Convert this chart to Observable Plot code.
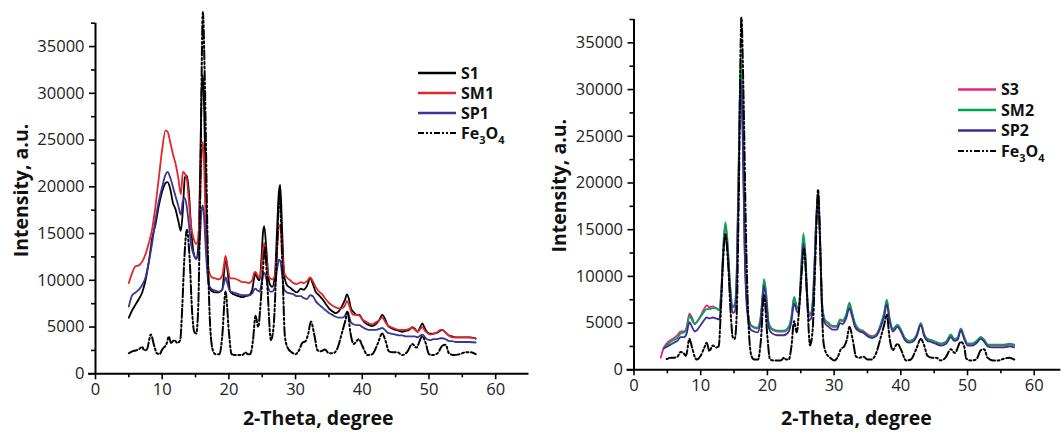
<!DOCTYPE html>
<html><head><meta charset="utf-8">
<script src="https://cdn.jsdelivr.net/npm/d3@7"></script>
<script src="https://cdn.jsdelivr.net/npm/@observablehq/plot@0.6"></script>
<style>
body{margin:0;background:#fff}
#wrap{display:flex;width:1061px;height:433px;overflow:hidden;background:#fff}
svg{display:block}
</style>
</head><body><div id="wrap"></div>
<script>
// ---- tick values ----
const yMajor = [0,5000,10000,15000,20000,25000,30000,35000];
const yMinor = [2500,7500,12500,17500,22500,27500,32500,37500];
const xMajor = [0,10,20,30,40,50,60];
const xMinor = [5,15,25,35,45,55];
const xTitle = "2-Theta, degree";
const yTitle = "Intensity, a.u.";

// ---- left panel series: [2-theta, intensity] ----
const leftS1 = [[5,6000],[5.5,6800],[6,7400],[6.5,8000],[7,8700],[7.5,10000],[8,12000],[8.5,14500],[9,16000],[9.5,18000],[10,19500],[10.5,20400],[10.8,20500],[11.2,19800],[11.6,18300],[12,17600],[12.4,16400],[12.8,15300],[13.1,17500],[13.4,21000],[13.7,21200],[14,19500],[14.3,16000],[14.7,13000],[15.1,12300],[15.4,13500],[15.7,22000],[15.9,30000],[16.1,32000],[16.3,28000],[16.6,17000],[17,9500],[17.5,8800],[18,8700],[18.5,8700],[19,9000],[19.3,11000],[19.5,12500],[19.8,11000],[20.2,8800],[20.7,8500],[21.5,8300],[22,8200],[22.5,8300],[23,8400],[23.5,9000],[23.8,10300],[24,10700],[24.3,10200],[24.6,10000],[24.9,12500],[25.1,15000],[25.3,15800],[25.6,13500],[25.9,10500],[26.2,9500],[26.5,9300],[26.9,10500],[27.2,15000],[27.5,19500],[27.7,20200],[28,15000],[28.3,10500],[28.7,9500],[29.2,9200],[29.7,8900],[30.2,8700],[30.8,9100],[31.2,9000],[31.7,9400],[32.2,10200],[32.6,9600],[33,8800],[33.5,8400],[34,8000],[34.5,7500],[35,7000],[35.5,6700],[36,6500],[36.5,6700],[37,7300],[37.4,7900],[37.7,8500],[38,8000],[38.3,7000],[38.7,6600],[39.2,6300],[39.6,6300],[40,5800],[40.5,5400],[41,5200],[41.5,5100],[42,5300],[42.5,5700],[43,6300],[43.4,5900],[43.8,5200],[44.3,4900],[45,4700],[45.5,4600],[46,4500],[46.5,4600],[47,4700],[47.5,5000],[47.9,4800],[48.3,4500],[48.7,5000],[49,5400],[49.3,5000],[49.7,4500],[50.2,4300],[50.7,4300],[51.2,4400],[51.7,4600],[52,4700],[52.5,4400],[53,4100],[53.5,4000],[54,3900],[55,3900],[56,3900],[57,3800]];
const leftSM1 = [[5,9700],[5.5,10800],[6,11500],[6.5,11600],[7,12000],[7.5,12800],[8,14000],[8.5,15500],[9,18000],[9.5,21000],[10,24000],[10.5,26000],[10.8,25900],[11.2,24800],[11.6,23500],[12,22500],[12.4,21000],[12.8,19200],[13.1,21600],[13.4,21400],[13.7,20800],[14,18500],[14.3,16000],[14.7,14500],[15.1,13900],[15.4,14500],[15.7,19000],[15.9,23500],[16.1,24800],[16.3,22000],[16.6,14000],[17,11000],[17.5,10300],[18,10200],[18.5,10100],[19,10500],[19.3,11800],[19.5,12600],[19.8,11500],[20.2,10200],[20.7,10200],[21.5,10000],[22,9800],[22.5,9800],[23,9700],[23.5,10000],[23.8,10800],[24,10900],[24.3,10500],[24.6,10300],[24.9,11500],[25.1,13200],[25.3,14000],[25.6,12500],[25.9,10600],[26.2,10200],[26.5,10100],[26.9,10500],[27.2,13000],[27.5,15800],[27.7,15900],[28,13000],[28.3,10800],[28.7,10300],[29.2,10000],[29.7,9700],[30.2,9600],[30.8,9800],[31.2,9700],[31.7,9900],[32.2,10300],[32.6,9900],[33,9300],[33.5,8800],[34,8500],[34.5,8000],[35,7600],[35.5,7300],[36,7100],[36.5,7000],[37,7000],[37.4,7300],[37.7,7800],[38,7400],[38.3,6700],[38.7,6300],[39.2,6300],[39.6,6200],[40,5800],[40.5,5600],[41,5400],[41.5,5300],[42,5500],[42.5,5700],[43,6000],[43.4,5600],[43.8,5200],[44.3,5000],[45,4800],[45.5,4700],[46,4700],[46.5,4700],[47,4800],[47.5,4900],[47.9,4700],[48.3,4500],[48.7,4800],[49,5000],[49.3,4700],[49.7,4400],[50.2,4200],[50.7,4300],[51.2,4400],[51.7,4700],[52,4700],[52.5,4400],[53,4100],[53.5,3900],[54,3900],[55,3900],[56,3900],[57,3750]];
const leftSP1 = [[5,7200],[5.5,8400],[6,8700],[6.5,9000],[7,9500],[7.5,10300],[8,12000],[8.5,14000],[9,16500],[9.5,18500],[10,20000],[10.5,21300],[10.8,21600],[11.2,21000],[11.6,20000],[12,19000],[12.4,18000],[12.8,17000],[13.1,18500],[13.4,18800],[13.7,17800],[14,16000],[14.3,14000],[14.7,12800],[15.1,12300],[15.4,12800],[15.7,15000],[15.9,17500],[16.1,18000],[16.3,16500],[16.6,12500],[17,9500],[17.5,9000],[18,8900],[18.5,8800],[19,9000],[19.3,9800],[19.5,10300],[19.8,9600],[20.2,8800],[20.7,8700],[21.5,8500],[22,8400],[22.5,8400],[23,8400],[23.5,8600],[23.8,9000],[24,9100],[24.3,8900],[24.6,8800],[24.9,9700],[25.1,10600],[25.3,10800],[25.6,10200],[25.9,9200],[26.2,8800],[26.5,8800],[26.9,9300],[27.2,11000],[27.5,12200],[27.7,12100],[28,10500],[28.3,9000],[28.7,8700],[29.2,8600],[29.7,8500],[30.2,8300],[30.8,8300],[31.2,8100],[31.7,8000],[32.2,8400],[32.6,8300],[33,7800],[33.5,7400],[34,7100],[34.5,6800],[35,6500],[35.5,6300],[36,6100],[36.5,6000],[37,6000],[37.4,6200],[37.7,6600],[38,6200],[38.3,5500],[38.7,5300],[39.2,5200],[39.6,5200],[40,5000],[40.5,4800],[41,4700],[41.5,4700],[42,4700],[42.5,4800],[43,4900],[43.4,4700],[43.8,4400],[44.3,4300],[45,4200],[45.5,4100],[46,4100],[46.5,4000],[47,4000],[47.5,4000],[47.9,4000],[48.3,3900],[48.7,4100],[49,4200],[49.3,4000],[49.7,3700],[50.2,3600],[50.7,3700],[51.2,3700],[51.7,3800],[52,3800],[52.5,3700],[53,3500],[53.5,3500],[54,3400],[55,3400],[56,3400],[57,3350]];
const leftFe3O4 = [[5,2200],[5.5,2400],[6,2500],[6.5,2600],[7,2900],[7.3,2500],[7.7,2600],[8.3,4200],[8.8,3000],[9.2,2200],[9.6,2100],[10,2600],[10.7,3300],[11,4000],[11.3,3300],[11.8,3600],[12.3,3300],[12.7,3600],[13,7000],[13.3,12000],[13.7,15400],[14.1,12500],[14.5,6500],[14.8,4500],[15.1,4300],[15.4,7000],[15.7,19000],[16.1,38700],[16.4,31000],[16.8,14500],[17.2,5000],[17.6,2500],[18,2100],[18.6,2100],[19,4000],[19.5,8800],[20,4500],[20.4,2100],[21,2000],[22,2000],[22.5,2300],[22.8,2100],[23.2,2100],[23.6,3500],[24,6200],[24.4,5000],[24.7,7000],[25.1,11000],[25.4,13500],[25.8,9000],[26.3,3600],[26.7,5000],[27.2,13000],[27.6,19500],[28,12000],[28.4,4000],[28.8,2800],[29.4,2300],[30,2100],[30.5,2500],[31,3300],[31.5,3500],[31.9,4300],[32.3,5600],[32.8,4200],[33.3,2500],[33.8,2400],[34.4,2600],[35,2200],[35.6,2200],[36.2,2600],[37,4500],[37.5,5800],[37.8,6700],[38.2,4500],[38.7,3200],[39.5,3700],[40,3000],[40.8,2000],[41.5,2100],[42.3,3200],[43,4300],[43.5,3500],[44,2400],[44.6,2300],[45.3,2300],[46,2000],[46.7,2300],[47.5,3200],[48.1,2800],[49,4000],[49.5,3300],[50,2100],[50.5,2000],[51.3,2200],[52,3000],[52.5,3100],[53,2200],[53.8,2000],[54.6,2100],[55.5,2300],[56.3,2300],[57,2100]];

// ---- right panel series ----
const rightS3 = [[4,1300],[4.5,2400],[5,2900],[5.5,3200],[6,3400],[6.5,3700],[7,4100],[7.5,4100],[7.9,4600],[8.3,6000],[8.7,5600],[9.1,4900],[9.5,5200],[10,5800],[10.5,6500],[10.9,6900],[11.3,6700],[11.8,6800],[12.3,6600],[12.8,6400],[13.1,8500],[13.4,13000],[13.7,15500],[14,13500],[14.4,9000],[14.8,6700],[15.1,6800],[15.4,10000],[15.7,22000],[16,33000],[16.3,26000],[16.6,13000],[17,6500],[17.5,4800],[18,4500],[18.5,4400],[19,5500],[19.3,8000],[19.5,9500],[19.8,8000],[20.2,4800],[20.7,4300],[21.5,4100],[22.5,4100],[23.2,4500],[23.6,5500],[24,7700],[24.4,6700],[24.7,6500],[25.1,11000],[25.4,14300],[25.7,12000],[26,7500],[26.3,5800],[26.6,6000],[27,10000],[27.3,16000],[27.6,18800],[27.9,14000],[28.2,7000],[28.6,5300],[29.2,4900],[29.8,4600],[30.4,4600],[30.9,5300],[31.3,5200],[31.8,5800],[32.3,7000],[32.7,6000],[33.2,4700],[33.8,4300],[34.3,4200],[35,3800],[35.7,3600],[36.3,3800],[37,4800],[37.5,6000],[37.9,7400],[38.3,5500],[38.8,4300],[39.5,4800],[40,4300],[40.6,3400],[41.2,3100],[41.8,3200],[42.4,3800],[43,5000],[43.5,3800],[44,3300],[44.5,3200],[45.2,3000],[46,2800],[46.8,3000],[47.5,3700],[48,3300],[48.5,3400],[49,4400],[49.5,3500],[50,2800],[50.7,2800],[51.4,3100],[52,3500],[52.5,3200],[53,2700],[53.7,2600],[54.5,2600],[55.5,2600],[56.3,2700],[57,2600]];
const rightSM2 = [[4.4,2250],[5,2700],[5.5,3000],[6,3200],[6.5,3400],[7,3900],[7.5,4000],[7.9,4400],[8.3,5800],[8.7,5300],[9.1,4900],[9.5,5200],[10,5700],[10.5,6200],[10.9,6500],[11.3,6500],[11.8,6600],[12.3,6600],[12.8,6400],[13.1,8800],[13.4,13500],[13.7,15800],[14,14000],[14.4,9200],[14.8,6800],[15.1,7000],[15.4,10500],[15.7,22500],[16,33500],[16.3,26500],[16.6,13500],[17,6800],[17.5,4800],[18,4600],[18.5,4500],[19,5800],[19.3,8300],[19.5,9700],[19.8,8300],[20.2,5000],[20.7,4400],[21.5,4200],[22.5,4200],[23.2,4600],[23.6,5700],[24,7800],[24.4,6800],[24.7,6600],[25.1,11500],[25.4,14600],[25.7,12300],[26,7700],[26.3,6000],[26.6,6200],[27,10200],[27.3,16000],[27.6,18900],[27.9,14000],[28.2,7200],[28.6,5400],[29.2,5000],[29.8,4700],[30.4,4700],[30.9,5400],[31.3,5300],[31.8,5900],[32.3,7200],[32.7,6100],[33.2,4900],[33.8,4300],[34.3,4100],[35,3700],[35.7,3500],[36.3,3700],[37,4900],[37.5,6100],[37.9,7500],[38.3,5600],[38.8,4400],[39.5,4800],[40,4300],[40.6,3400],[41.2,3100],[41.8,3200],[42.4,3800],[43,5000],[43.5,3800],[44,3300],[44.5,3200],[45.2,3000],[46,2800],[46.8,3000],[47.5,3800],[48,3300],[48.5,3400],[49,4400],[49.5,3500],[50,2800],[50.7,2800],[51.4,3100],[52,3500],[52.5,3200],[53,2700],[53.7,2700],[54.5,2700],[55.5,2700],[56.3,2800],[57,2700]];
const rightSP2 = [[4.5,2300],[5,2500],[5.5,2700],[6,2900],[6.5,3100],[7,3500],[7.5,3500],[7.9,3900],[8.3,5100],[8.7,4600],[9.1,4100],[9.5,4300],[10,4800],[10.5,5300],[10.9,5600],[11.3,5500],[11.8,5600],[12.3,5500],[12.8,5400],[13.1,8000],[13.4,12500],[13.7,14500],[14,13000],[14.4,8500],[14.8,6100],[15.1,6200],[15.4,9500],[15.7,21000],[16,31000],[16.3,25000],[16.6,12500],[17,6000],[17.5,4300],[18,4100],[18.5,4000],[19,5300],[19.3,7800],[19.5,9000],[19.8,7600],[20.2,4500],[20.7,3900],[21.5,3700],[22.5,3700],[23.2,4100],[23.6,5200],[24,7100],[24.4,6300],[24.7,6100],[25.1,10500],[25.4,13500],[25.7,11500],[26,7000],[26.3,5300],[26.6,5600],[27,9500],[27.3,15500],[27.6,18200],[27.9,13500],[28.2,6600],[28.6,5000],[29.2,4600],[29.8,4300],[30.4,4300],[30.9,5000],[31.3,4900],[31.8,5500],[32.3,6600],[32.7,5700],[33.2,4500],[33.8,4100],[34.3,4000],[35,3600],[35.7,3400],[36.3,3600],[37,4600],[37.5,5700],[37.9,7000],[38.3,5300],[38.8,4100],[39.5,4600],[40,4100],[40.6,3200],[41.2,2900],[41.8,3000],[42.4,3600],[43,4800],[43.5,3600],[44,3100],[44.5,3000],[45.2,2800],[46,2600],[46.8,2800],[47.5,3500],[48,3100],[48.5,3200],[49,4200],[49.5,3300],[50,2600],[50.7,2600],[51.4,2900],[52,3300],[52.5,3000],[53,2500],[53.7,2400],[54.5,2400],[55.5,2400],[56.3,2500],[57,2400]];
const rightFe3O4 = [[4.9,1150],[5.5,1300],[6,1300],[6.5,1400],[7,1900],[7.4,1800],[7.8,1500],[8.3,3300],[8.7,2400],[9.1,1400],[9.4,1100],[10,1500],[10.5,2300],[10.9,2900],[11.3,2000],[11.8,2600],[12.3,2400],[12.7,2500],[13,6000],[13.3,11000],[13.7,14500],[14.1,11500],[14.5,6000],[14.8,3500],[15.1,3300],[15.4,6000],[15.7,18000],[16.1,37700],[16.4,30000],[16.8,14000],[17.2,4500],[17.6,1500],[18,1100],[18.6,1100],[19,3000],[19.5,8000],[20,3500],[20.4,1100],[21,1000],[22,1000],[22.5,1300],[22.8,1100],[23.2,1100],[23.6,2500],[24,5200],[24.4,4000],[24.7,6000],[25.1,10000],[25.5,13000],[25.9,8500],[26.4,2600],[26.8,4500],[27.2,12000],[27.6,19300],[28,11000],[28.4,3000],[28.8,1800],[29.4,1300],[30,1000],[30.5,1300],[31,2200],[31.5,2500],[31.9,3200],[32.3,4600],[32.8,3200],[33.3,1400],[33.8,1300],[34.4,1400],[35,1100],[35.6,1100],[36.2,1600],[37,3500],[37.5,4800],[37.9,5900],[38.3,3500],[38.8,2100],[39.5,2800],[40,2200],[40.8,1000],[41.5,1100],[42.3,2200],[43,3300],[43.5,2600],[44,1500],[44.6,1300],[45.3,1300],[46,1000],[46.7,1300],[47.5,2200],[48.1,1800],[49,3000],[49.5,2500],[49.8,1200],[50.5,1000],[51.3,1100],[52,2100],[52.5,2200],[53,1300],[53.8,1000],[54.6,1000],[55.5,1200],[56.3,1300],[57,1100]];

// ---- legend labels & colours ----
const leftNames = ["S1", "SM1", "SP1", "Fe3O4"];
const leftColors = ["#000000", "#e3262b", "#3a3597", "#000000"];
const rightNames = ["S3", "SM2", "SP2", "Fe3O4"];
const rightColors = ["#e4268a", "#00a651", "#3b2d95", "#000000"];
const feDash = "9,2.5,2,2.5,2,2.5";

function panel(cfg) {
  const {series, colors, width, marginLeft, marginRight, marginTop, marginBottom, xMax,
         xtDx, xtDy, ytDx, ytDy} = cfg;
  const lines = series.map((s, i) => Plot.line(s, {
    x: d => d[0], y: d => d[1], stroke: colors[i],
    strokeWidth: i === 3 ? 2 : 1.8,
    strokeDasharray: i === 3 ? feDash : null,
    curve: "monotone-x"
  }));
  return Plot.plot({
    width, height: 433, marginLeft, marginRight, marginTop, marginBottom,
    x: {domain: [0, xMax]},
    y: {domain: [0, 37500]},
    style: {fontFamily: "'Open Sans', sans-serif", fontSize: "16.5px", color: "#222", background: "#fff", overflow: "visible"},
    marks: [
      ...lines,
      Plot.ruleX([0], {stroke: "#000", strokeWidth: 2}),
      Plot.ruleY([0], {stroke: "#000", strokeWidth: 2, insetLeft: -7}),
      Plot.axisY(yMajor, {tickSize: 6, tickPadding: 5, strokeWidth: 1.6, stroke: "#000", tickFormat: d => String(d), label: null}),
      Plot.axisY(yMinor, {tickSize: 4, strokeWidth: 1.6, stroke: "#000", fill: "none", label: null}),
      Plot.axisX(xMajor, {tickSize: 6, tickPadding: 3, strokeWidth: 1.6, stroke: "#000", tickFormat: d => String(d), label: null}),
      Plot.axisX(xMinor, {tickSize: 4, strokeWidth: 1.6, stroke: "#000", fill: "none", label: null}),
      Plot.text([xTitle], {frameAnchor: "bottom", textAnchor: "middle", lineAnchor: "top", dx: xtDx, dy: xtDy,
        fontWeight: "bold", fontSize: 19.5, fill: "#111"}),
      Plot.text([yTitle], {frameAnchor: "left", textAnchor: "middle", lineAnchor: "middle", rotate: -90, dx: ytDx, dy: ytDy,
        fontWeight: "bold", fontSize: 19.5, fill: "#111"})
    ]
  });
}

function legend(svg, names, colors, x0, y0, step) {
  const g = d3.select(svg).append("g")
    .attr("font-family", "'Open Sans', sans-serif")
    .attr("text-anchor", "start")
    .attr("font-weight", 700).attr("font-size", 16).attr("fill", "#111");
  names.forEach((name, i) => {
    const y = y0 + i * step;
    g.append("line").attr("x1", x0).attr("x2", x0 + 38).attr("y1", y).attr("y2", y)
      .attr("stroke", colors[i]).attr("stroke-width", i === 3 ? 2 : 2.4)
      .attr("stroke-dasharray", i === 3 ? "6,2,2,2,2,2" : null);
    const t = g.append("text").attr("x", x0 + 43).attr("y", y).attr("dy", "0.36em")
      .attr("text-anchor", "start");
    if (name === "Fe3O4") {
      t.append("tspan").text("Fe");
      t.append("tspan").text("3").attr("font-size", 11).attr("dy", 5);
      t.append("tspan").text("O").attr("dy", -5);
      t.append("tspan").text("4").attr("font-size", 11).attr("dy", 5);
    } else {
      t.text(name);
    }
  });
}

const wrap = document.getElementById("wrap");
const left = panel({
  series: [leftS1, leftSM1, leftSP1, leftFe3O4], colors: leftColors,
  width: 530, marginLeft: 95, marginRight: 1.5, marginTop: 22.7, marginBottom: 59.7, xMax: 65,
  xtDx: 6, xtDy: 37.5, ytDx: -74, ytDy: -8
});
legend(left, leftNames, leftColors, 418, 73, 20);
wrap.appendChild(left);

const right = panel({
  series: [rightS3, rightSM2, rightSP2, rightFe3O4], colors: rightColors,
  width: 531, marginLeft: 103.5, marginRight: 0.6, marginTop: 19, marginBottom: 63.7, xMax: 64,
  xtDx: 9, xtDy: 41.5, ytDx: -74, ytDy: -9
});
legend(right, rightNames, rightColors, 428, 89.5, 20.5);
wrap.appendChild(right);
</script>
</body></html>
